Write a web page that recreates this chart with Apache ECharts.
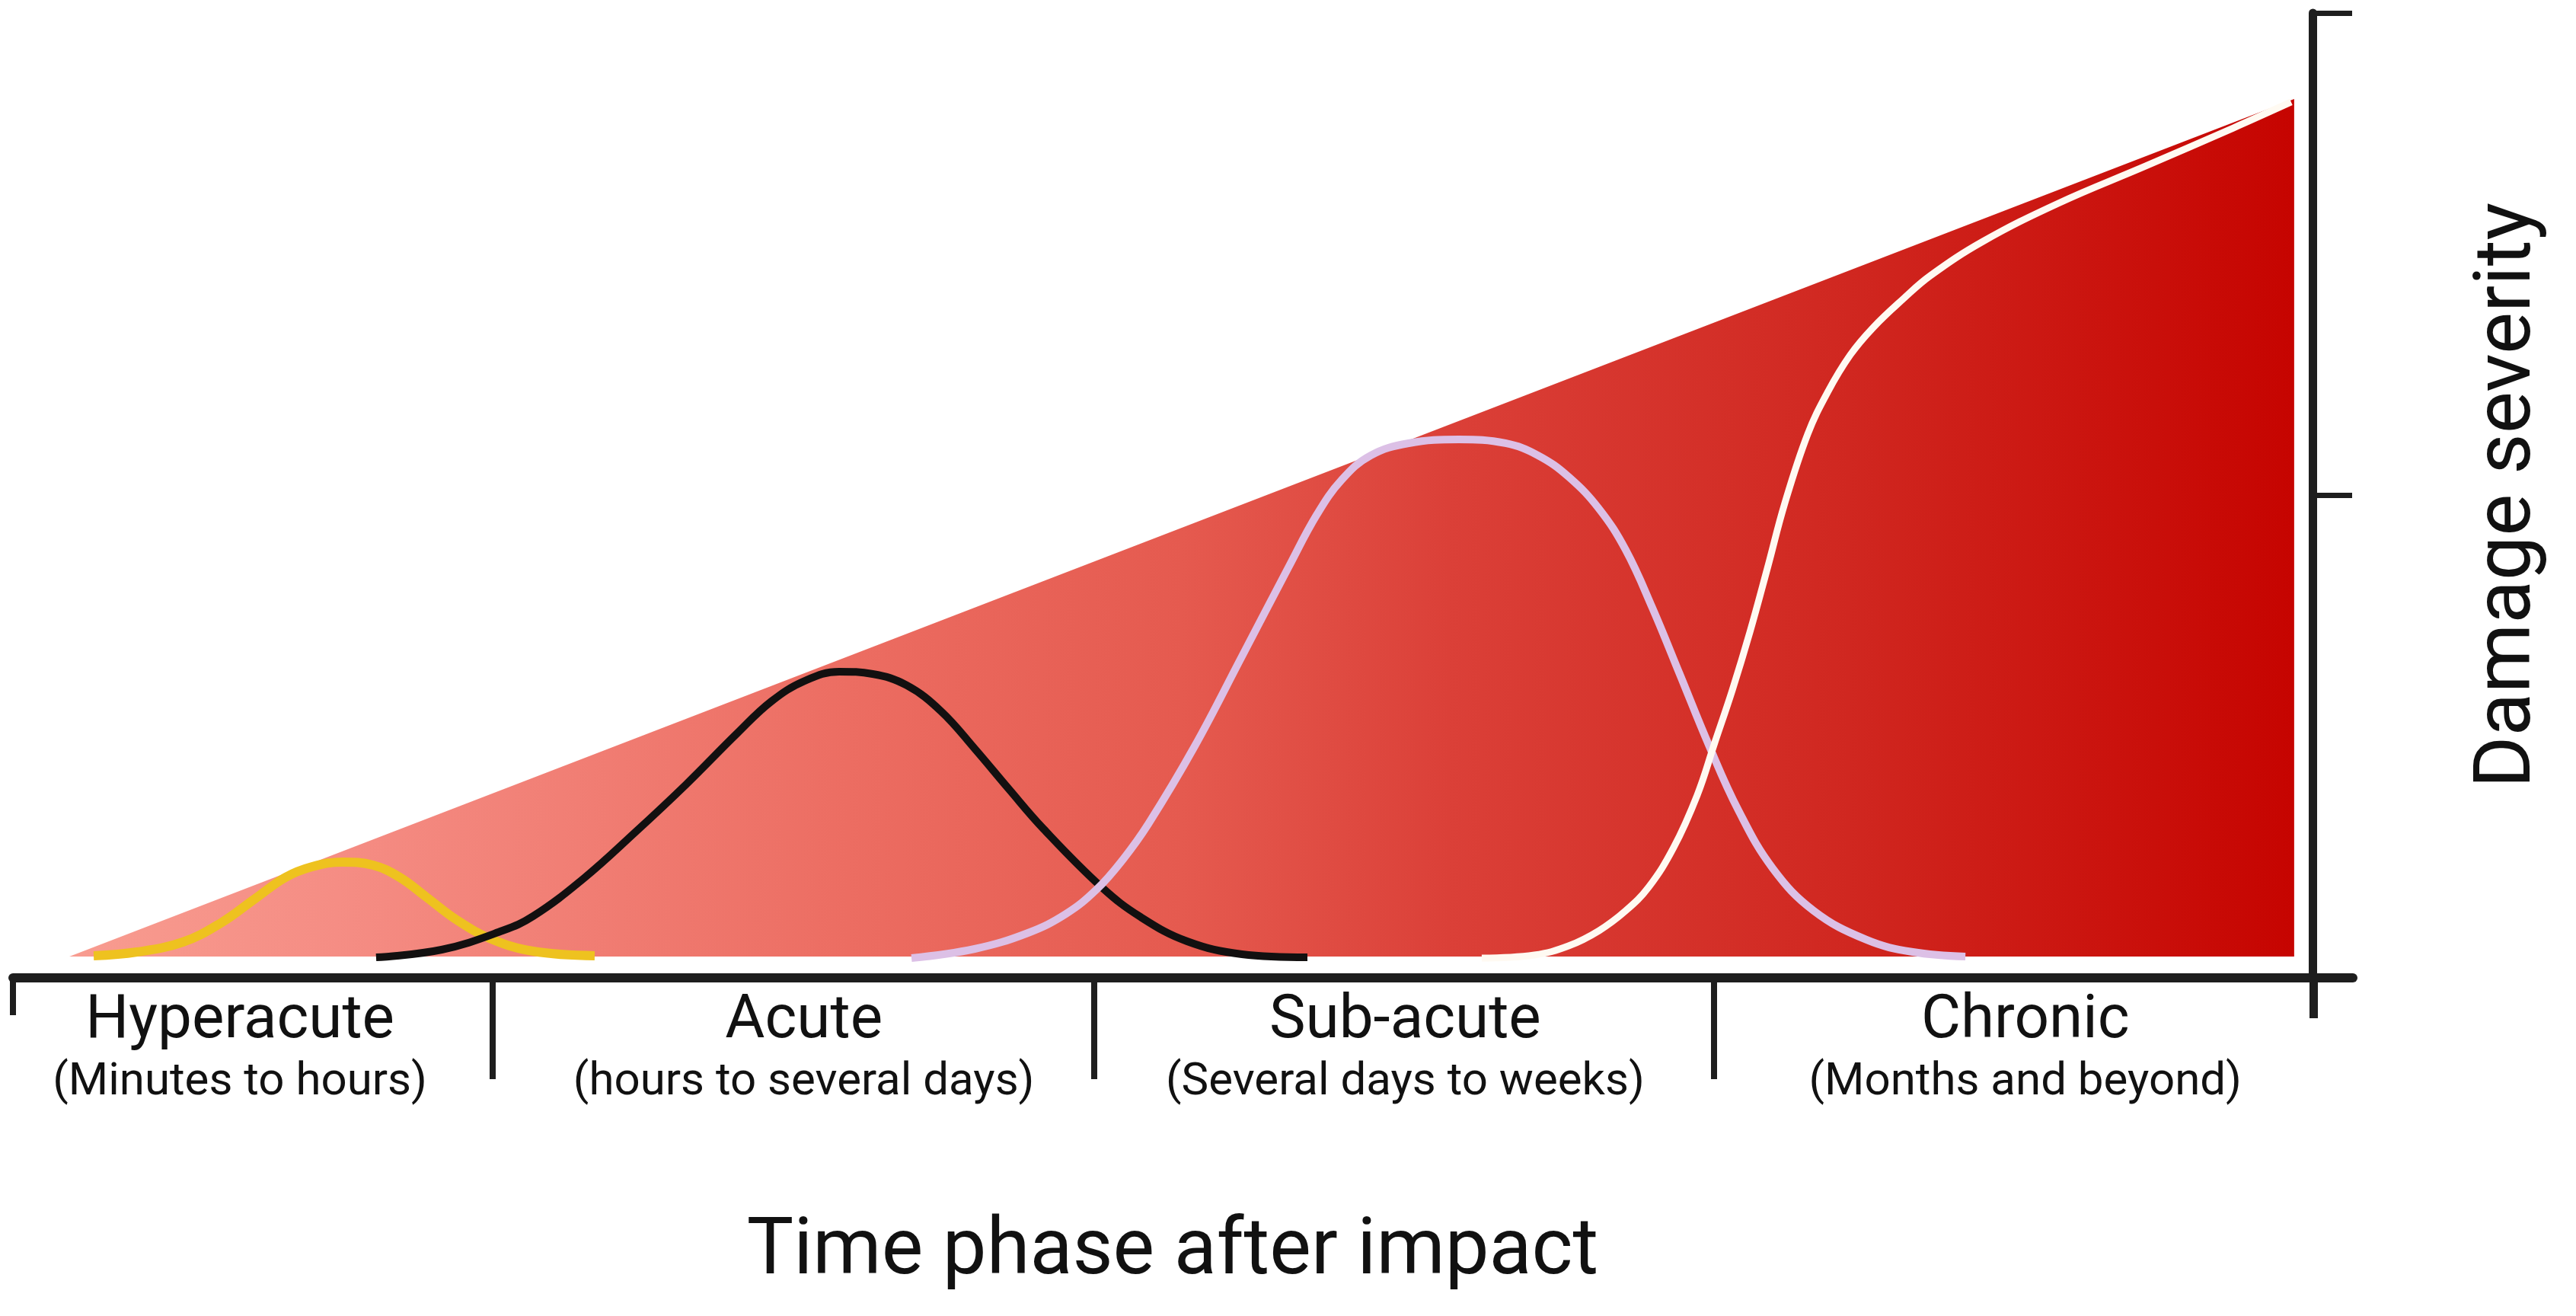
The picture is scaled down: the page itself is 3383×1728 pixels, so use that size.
<!DOCTYPE html>
<html>
<head>
<meta charset="utf-8">
<title>Damage severity over time</title>
<script src="https://cdn.jsdelivr.net/npm/echarts@6/dist/echarts.min.js"></script>
<style>
  html, body { margin: 0; padding: 0; background: #ffffff; }
  #chart { width: 3383px; height: 1728px; }
</style>
</head>
<body>
<div id="chart"></div>
<script>
// ---- Data (x: relative time scale 0-100, y: damage severity 0-100) ----
const phaseNames = ['Hyperacute', 'Acute', 'Sub-acute', 'Chronic'];
const phaseRanges = ['(Minutes to hours)', '(hours to several days)', '(Several days to weeks)', '(Months and beyond)'];
const phaseLabelPos = [9.7, 33.8, 59.5, 86.0];
const phaseSeparators = [20.5, 46.2, 72.7];
const axisEnds = [0];
const yAxisFoot = [98.3];

// overall severity envelope (triangle)
const severityEnvelope = [[2.41, 2.21], [97.49, 91.08]];
const envelopeBase = 2.21;

// hyperacute response (yellow)
const hyperacuteCurve = [
  [3.45, 2.29], [5.30, 2.68], [7.26, 3.71], [8.88, 5.68], [10.35, 8.21],
  [11.65, 10.42], [12.79, 11.52], [14.09, 12.00], [15.39, 11.68], [16.53, 10.42],
  [17.67, 8.37], [18.97, 6.00], [20.44, 4.03], [22.23, 2.76], [24.86, 2.29]
];
// acute response (black)
const acuteCurve = [
  [15.52, 2.13], [18.32, 2.92], [20.92, 4.89], [22.23, 6.39], [24.41, 10.34],
  [26.59, 15.08], [28.77, 20.05], [30.95, 25.34], [32.41, 28.65], [33.84, 30.78],
  [35.31, 31.73], [36.74, 31.49], [38.20, 30.31], [39.67, 27.62], [41.10, 23.76],
  [42.56, 19.57], [44.03, 15.47], [46.53, 9.39], [48.19, 6.31], [50.18, 3.79],
  [52.52, 2.45], [55.32, 2.13]
];
// sub-acute response (lavender)
const subacuteCurve = [
  [38.40, 2.05], [41.10, 3.00], [43.38, 4.66], [45.00, 6.63], [46.31, 9.16],
  [47.45, 12.31], [48.52, 15.94], [50.50, 23.99], [52.52, 33.31], [54.51, 42.54],
  [55.74, 48.07], [56.79, 51.62], [58.02, 54.14], [59.65, 55.41], [61.80, 55.80],
  [63.78, 55.41], [65.18, 54.14], [66.48, 51.93], [67.78, 48.62], [68.92, 44.36],
  [70.06, 38.36], [71.23, 31.49], [72.47, 24.15], [73.74, 17.36], [75.20, 11.37],
  [76.96, 6.95], [79.21, 3.95], [81.19, 2.68], [83.44, 2.21]
];
// chronic response (white)
const chronicCurve = [
  [62.77, 2.05], [65.02, 2.37], [66.48, 3.31], [67.78, 4.89], [68.92, 6.95],
  [69.90, 9.39], [70.97, 13.50], [71.98, 18.94], [72.73, 24.39], [73.48, 29.83],
  [74.23, 35.83], [74.98, 42.46], [75.72, 49.17], [76.70, 56.35], [77.55, 60.69],
  [78.52, 64.56], [79.50, 67.40], [80.80, 70.40], [81.94, 72.77], [84.19, 76.32],
  [87.41, 80.27], [91.15, 84.14], [94.89, 88.08], [97.36, 90.77]
];

const FONT = 'Roboto, "Noto Sans", sans-serif';
const AXIS_COLOR = '#1e1e1e';

const chart = echarts.init(document.getElementById('chart'), null, { renderer: 'canvas' });

function curve(name, data, color, width) {
  return {
    name, type: 'line', data, smooth: 0.4, showSymbol: false, symbol: 'none',
    lineStyle: { color, width, cap: 'butt', join: 'round' }, silent: true, animation: false
  };
}

const option = {
  animation: false,
  backgroundColor: '#ffffff',
  grid: { left: 17, right: 293, top: 17, bottom: 444, containLabel: false },
  xAxis: [
    {
      type: 'value', min: 0, max: 100, position: 'bottom',
      axisLine: { show: true, onZero: false, lineStyle: { color: AXIS_COLOR, width: 12 } },
      axisTick: { show: true, customValues: phaseSeparators, length: 133, lineStyle: { color: AXIS_COLOR, width: 8 } },
      axisLabel: {
        show: true, customValues: phaseLabelPos, margin: 14,
        formatter: function (v) {
          let idx = 0, best = Infinity;
          phaseLabelPos.forEach((p, i) => { const d = Math.abs(p - v); if (d < best) { best = d; idx = i; } });
          return '{a|' + phaseNames[idx] + '}\n{b|' + phaseRanges[idx] + '}';
        },
        rich: {
          a: { fontFamily: FONT, fontSize: 80, lineHeight: 88, color: '#111111' },
          b: { fontFamily: FONT, fontSize: 60, lineHeight: 72, color: '#111111' }
        }
      },
      splitLine: { show: false },
      name: 'Time phase after impact', nameLocation: 'middle', nameGap: 362,
      nameTextStyle: { fontFamily: FONT, fontSize: 103, color: '#111111', verticalAlign: 'middle', padding: [0, 27, 0, 0] }
    },
    {
      type: 'value', min: 0, max: 100, position: 'bottom',
      axisLine: { show: false, onZero: false },
      axisTick: { show: true, customValues: axisEnds, length: 49, lineStyle: { color: AXIS_COLOR, width: 8 } },
      axisLabel: { show: false }, splitLine: { show: false }
    },
    {
      type: 'value', min: 0, max: 100, position: 'bottom',
      axisLine: { show: false, onZero: false },
      axisTick: { show: true, customValues: yAxisFoot, length: 53, lineStyle: { color: AXIS_COLOR, width: 11 } },
      axisLabel: { show: false }, splitLine: { show: false }
    }
  ],
  yAxis: {
    type: 'value', min: 0, max: 100, interval: 50, position: 'right', offset: -53,
    axisLine: { show: true, onZero: false, lineStyle: { color: AXIS_COLOR, width: 11 } },
    axisTick: { show: true, inside: false, length: 52, lineStyle: { color: AXIS_COLOR, width: 7 } },
    axisLabel: { show: false },
    splitLine: { show: false },
    name: 'Damage severity', nameLocation: 'middle', nameRotate: 90, nameGap: 259,
    nameTextStyle: { fontFamily: FONT, fontSize: 104, color: '#111111', verticalAlign: 'middle' }
  },
  series: [
    {
      name: 'Severity', type: 'line', data: severityEnvelope, showSymbol: false, symbol: 'none',
      lineStyle: { width: 0 }, silent: true,
      areaStyle: {
        origin: envelopeBase, opacity: 1,
        color: new echarts.graphic.LinearGradient(0, 0, 1, 0, [
          { offset: 0, color: '#f89c90' },
          { offset: 0.12, color: '#f58d84' },
          { offset: 0.35, color: '#ec6d62' },
          { offset: 0.5, color: '#e55a4f' },
          { offset: 0.62, color: '#db4038' },
          { offset: 0.8, color: '#d02720' },
          { offset: 1, color: '#c60400' }
        ])
      }
    },
    curve('Hyperacute', hyperacuteCurve, '#eec21f', 12),
    curve('Acute', acuteCurve, '#121010', 10),
    curve('Sub-acute', subacuteCurve, '#dcc0e6', 10),
    curve('Chronic', chronicCurve, '#fffaf2', 9)
  ]
};

chart.setOption(option);
</script>
</body>
</html>
